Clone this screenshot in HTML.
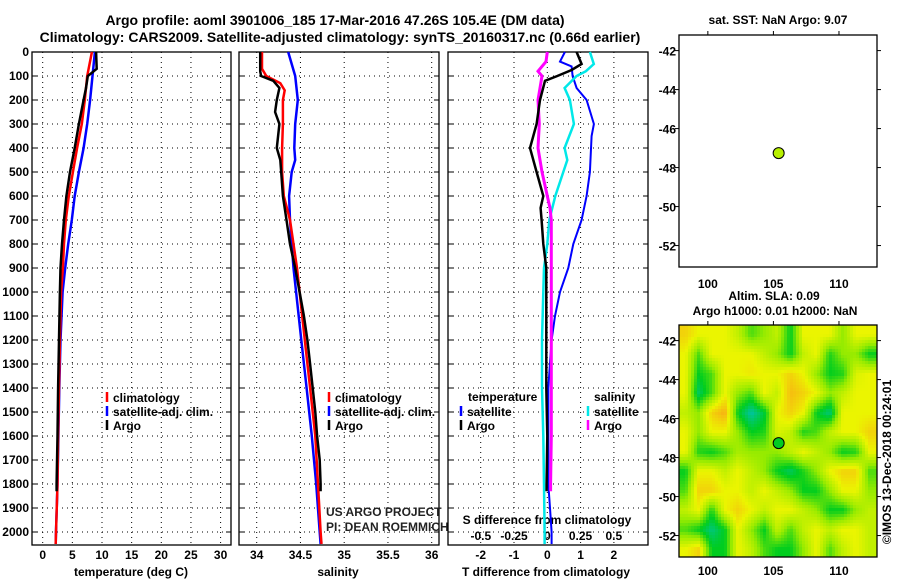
<!DOCTYPE html>
<html><head><meta charset="utf-8"><style>
body{margin:0;background:#fff;}
svg{display:block;font-family:"Liberation Sans",Arial,sans-serif;}
.b{font-weight:bold;font-size:12px;}
</style></head><body>
<svg id="s" width="900" height="580" xmlns="http://www.w3.org/2000/svg">
<text x="335" y="25" text-anchor="middle" font-weight="bold" font-size="14">Argo profile: aoml 3901006_185 17-Mar-2016 47.26S 105.4E (DM data)</text>
<text x="340" y="42" text-anchor="middle" font-weight="bold" font-size="14">Climatology: CARS2009. Satellite-adjusted climatology: synTS_20160317.nc (0.66d earlier)</text>
<g id="g"></g>
</svg>
<script>
// ---- data ----
const depthTicks=[0,100,200,300,400,500,600,700,800,900,1000,1100,1200,1300,1400,1500,1600,1700,1800,1900,2000];
const tTicks=[0,5,10,15,20,25,30];
const sTicks=[34,34.5,35,35.5,36];
const dtTicks=[-2,-1,0,1,2];
const dsTicks=[-0.5,-0.25,0,0.25,0.5];
const dsTickLabels=["-0.5","-0.25","0","0.25","0.5"];
const argoDepth=[0,70,100,150,200,300,400,500,600,700,800,900,1000,1200,1400,1600,1800,1830];
const argoTemp=[9.0,9.1,7.6,7.3,6.9,6.1,5.4,4.6,4.0,3.6,3.25,3.0,2.9,2.75,2.6,2.5,2.35,2.35];
const climDepth=[0,100,200,300,400,500,600,700,800,900,1000,1200,1400,1600,1800,2000,2050];
const climTemp=[8.3,7.5,7.1,6.6,5.8,5.1,4.4,3.9,3.6,3.4,3.1,2.9,2.75,2.6,2.5,2.25,2.2];
const satTemp=[8.8,8.4,8.0,7.5,6.9,6.1,5.4,4.9,4.3,3.8,3.35,3.0,2.8,2.65,2.5,2.25,2.2];
const argoSDepth=[0,80,100,120,150,200,250,300,400,450,500,600,700,800,900,1000,1100,1200,1300,1400,1500,1600,1700,1800,1830];
const argoSal=[34.04,34.04,34.05,34.19,34.26,34.23,34.21,34.26,34.23,34.27,34.28,34.30,34.34,34.38,34.44,34.49,34.54,34.58,34.61,34.64,34.67,34.69,34.72,34.73,34.73];
const climSDepth=[0,70,100,130,160,200,300,400,500,600,700,800,900,1000,1200,1400,1600,1800,2000,2050];
const climSal=[34.06,34.06,34.11,34.27,34.32,34.30,34.30,34.29,34.29,34.31,34.38,34.42,34.46,34.49,34.55,34.61,34.67,34.70,34.73,34.74];
const satSDepth=[0,50,100,200,300,400,450,500,600,700,800,900,1000,1200,1400,1600,1800,2000,2050];
const satSal=[34.36,34.40,34.44,34.47,34.44,34.43,34.44,34.40,34.37,34.38,34.40,34.42,34.45,34.51,34.57,34.63,34.68,34.72,34.73];
const dTSatDepth=[0,40,60,100,150,200,300,350,500,600,700,800,900,1000,1100,1200,1400,1600,1800,1900,2000,2050];
const dTSat=[0.53,0.38,0.73,0.76,0.88,1.18,1.4,1.33,1.28,1.18,1.03,0.78,0.63,0.38,0.23,0.13,0.03,0.03,0.03,0.08,0.13,0.13];
const dTArgoDepth=[0,50,75,100,120,200,300,400,500,600,650,700,800,900,1000,1200,1400,1600,1800,1830];
const dTArgo=[0.88,1.03,0.73,0.3,-0.07,-0.22,-0.32,-0.52,-0.32,-0.12,-0.2,-0.17,-0.12,-0.03,-0.03,-0.03,-0.03,0.0,-0.02,-0.02];
const dSSatDepth=[0,50,80,100,150,200,300,400,450,500,600,700,800,900,1000,1200,1400,1600,1800,2000,2050];
const dSSat=[0.32,0.35,0.29,0.22,0.13,0.17,0.2,0.13,0.15,0.12,0.06,0.015,0,-0.025,-0.03,-0.04,-0.04,-0.03,-0.025,-0.02,-0.02];
const dSArgoDepth=[0,40,80,100,150,200,300,400,500,600,650,700,800,900,1000,1200,1400,1600,1800,1830];
const dSArgo=[0,-0.01,-0.07,-0.04,-0.055,-0.07,-0.06,-0.07,-0.04,0,0.02,0.03,0.03,0.03,0.03,0.03,0.03,0.03,0.025,0.025];
const lonTicks=[100,105,110];
const latTicks=[-42,-44,-46,-48,-50,-52];
const floatLon=105.4, floatLat=-47.26;
const slaLons=[98.3,99.3,100.3,101.3,102.3,103.3,104.3,105.3,106.3,107.3,108.3,109.3,110.3,111.3,112.3];
const slaLats=[-41.7,-42.7,-43.7,-44.7,-45.7,-46.7,-47.7,-48.7,-49.7,-50.7,-51.7,-52.7];
const slaLevels=[
[3.5,3,3,3,2.5,1.5,2,2.5,1,3,3,3,2,3,3],
[3,1.5,3,3,3,3,2.5,2,1,2.5,3,1.2,2,2,1],
[3,1,1.5,3,3,3.2,3,3,3.5,3,2,1,1.2,2.8,3],
[3,0.5,1.5,3,2,1.5,3,2.5,3.8,3.5,3,2,2.5,3,3],
[2.5,2,3.5,4,1,0,0.8,3,3.5,3,1,0.3,3,3,3],
[3,2,3,3,2,1,1.2,2.8,2.5,1.2,1.5,2.5,3,3,3.5],
[3,1.2,1,1.5,2.2,2,2,2,2.5,3,2.5,2,1,1.2,3],
[1,3,3,2.5,3,2.5,2,1,0.5,1.2,2,3,3.5,3.5,1.5],
[1.5,3.5,3.5,3,3,2.5,3,2.5,2,1,1,2,3,3,2],
[2.5,3,1.2,3,3.5,3,2.5,3,3,2.5,2,1,1,2,2.5],
[1.5,1,0.3,1,3,2,1,2.5,1.5,2.5,3,2.5,3,3,2.5],
[3,3.5,1,1,3,2.5,1.5,1,1,2,3,1.5,2.5,3,2.5]];

const NS="http://www.w3.org/2000/svg";
const G=document.getElementById('g');
function mk(tag,at,parent){const e=document.createElementNS(NS,tag);for(const k in at)e.setAttribute(k,at[k]);(parent||G).appendChild(e);return e;}
function txt(x,y,s,anchor,cls,parent){const e=mk('text',{x:x,y:y,'text-anchor':anchor||'middle','class':cls||'b'},parent);e.textContent=s;return e;}

const TOP=52, DPX=0.24, BOT=545;
const yD=d=>TOP+d*DPX;
const P1={x0:32,x1:231,f:v=>42.7+v*5.93};
const P2={x0:239,x1:439,f:v=>256.7+(v-34)*87.5};
const P3={x0:448,x1:648,f:v=>547.3+v*33.3,g:v=>547.3+v*133};

function panel(P,name,xt,xf){
  const b=mk('rect',{x:P.x0,y:TOP,width:P.x1-P.x0,height:BOT-TOP,fill:'#fff',stroke:'#000','stroke-width':1.3});
  
  
  depthTicks.forEach(d=>{
    const l=mk('line',{x1:P.x0,x2:P.x1,y1:yD(d),y2:yD(d),stroke:'#000','stroke-width':1,'stroke-dasharray':'1,4'});
    
    
    mk('line',{x1:P.x1-5,x2:P.x1,y1:yD(d),y2:yD(d),stroke:'#000'});
    mk('line',{x1:P.x0,x2:P.x0+5,y1:yD(d),y2:yD(d),stroke:'#000'});
  });
  xt.forEach(v=>{
    const l=mk('line',{x1:xf(v),x2:xf(v),y1:TOP,y2:BOT,stroke:'#000','stroke-width':1,'stroke-dasharray':'1,4'});
    
    
  });
}
function series(depths,vals,xf,color,name,w){
  const pts=depths.map((d,i)=>xf(vals[i]).toFixed(1)+','+yD(d).toFixed(1)).join(' ');
  const p=mk('polyline',{points:pts,fill:'none',stroke:color,'stroke-width':w||2.5,'stroke-linejoin':'miter'});
  
  
}
function legend(x,y,color,label){
  mk('line',{x1:x,x2:x,y1:y-10,y2:y,stroke:color,'stroke-width':2.5});
  const t=txt(x+6,y,label,'start');
  
  
}

// Panel 1
panel(P1,'temperature-panel',tTicks,P1.f);
depthTicks.forEach(d=>{const t=txt(29,yD(d)+4,String(d),'end');});
tTicks.forEach(v=>{const t=txt(P1.f(v),559,String(v));});
{const t=txt(131,576,'temperature (deg C)');}
series(climDepth,satTemp,P1.f,'#0000ff','line-sat-temp');
series(climDepth,climTemp,P1.f,'#ff0000','line-clim-temp');
series(argoDepth,argoTemp,P1.f,'#000','line-argo-temp');
legend(107,402,'#f00','climatology');legend(107,416,'#00f','satellite-adj. clim.');legend(107,430,'#000','Argo');

// Panel 2
panel(P2,'salinity-panel',sTicks,P2.f);
sTicks.forEach(v=>{const t=txt(P2.f(v),559,String(v));});
{const t=txt(338,576,'salinity');}
series(satSDepth,satSal,P2.f,'#0000ff','line-sat-salinity');
series(climSDepth,climSal,P2.f,'#ff0000','line-clim-salinity');
series(argoSDepth,argoSal,P2.f,'#000','line-argo-salinity');
legend(329,402,'#f00','climatology');legend(329,416,'#00f','satellite-adj. clim.');legend(329,430,'#000','Argo');
{const t=txt(326,516,'US ARGO PROJECT','start','');t.setAttribute('font-size','12');t.setAttribute('fill','#222');
const t2=txt(326,531,'PI: DEAN ROEMMICH','start','');t2.setAttribute('font-size','12');t2.setAttribute('fill','#222');}

// Panel 3
panel(P3,'difference-panel',dtTicks,P3.f);
dtTicks.forEach(v=>{const t=txt(P3.f(v),559,String(v));});
dsTicks.forEach((v,i)=>{const t=txt(P3.g(v),540,dsTickLabels[i]);});
{const t=txt(547,524,'S difference from climatology');}
{const t=txt(546,576,'T difference from climatology');}
series(dTSatDepth,dTSat,P3.f,'#0000ff','line-sat-t-diff',2);
series(dSSatDepth,dSSat,P3.g,'#00e8e8','line-sat-s-diff',2.5);
series(dSArgoDepth,dSArgo,P3.g,'#ff00ff','line-argo-s-diff',3);
series(dTArgoDepth,dTArgo,P3.f,'#000','line-argo-t-diff',2.5);
{const t=txt(468,401,'temperature','start');
const t2=txt(594,401,'salinity','start');}
legend(461,416,'#00f','satellite');legend(461,430,'#000','Argo');
legend(588,416,'#00e8e8','satellite');legend(588,430,'#f0f','Argo');

// Maps
function map(y0,y1,latTop,latBot,name){
  const M={x0:679,x1:877,lonL:97.8,lonR:112.9};
  M.fx=v=>M.x0+(v-M.lonL)*(M.x1-M.x0)/(M.lonR-M.lonL);
  M.fy=v=>y0+(latTop-v)*(y1-y0)/(latTop-latBot);
  M.y0=y0;M.y1=y1;M.name=name;return M;
}
const M1=map(35,267,-41.2,-53.1,'sst-map');
const M2=map(325,557,-41.2,-53.1,'sla-map');
function mapAxes(M,labY){
  const r=mk('rect',{x:M.x0,y:M.y0,width:M.x1-M.x0,height:M.y1-M.y0,fill:'none',stroke:'#000','stroke-width':1.3});
  
  
  latTicks.forEach(v=>{const y=M.fy(v);mk('line',{x1:M.x0-4,x2:M.x0,y1:y,y2:y,stroke:'#000'});mk('line',{x1:M.x1,x2:M.x1+4,y1:y,y2:y,stroke:'#000'});
    const t=txt(676,y+5,String(v),'end');});
  lonTicks.forEach(v=>{const x=M.fx(v);mk('line',{x1:x,x2:x,y1:M.y0-4,y2:M.y0,stroke:'#000'});
    const t=txt(x,labY,String(v));});
}
// SLA heatmap (bilinear interpolation of the level grid)
function lvlColor(v){
  const stops=[[0,195,165],[0,205,30],[150,235,0],[235,245,0],[248,175,20]];
  v=Math.max(0,Math.min(4,v));
  const i=Math.min(3,Math.floor(v)),f=v-i,a=stops[i],b=stops[i+1];
  return 'rgb('+a.map((c,k)=>Math.round(c+(b[k]-c)*f)).join(',')+')';
}
function slaAt(lon,lat){
  let fc=(lon-slaLons[0])/(slaLons[1]-slaLons[0]);
  let fr=(slaLats[0]-lat)/(slaLats[0]-slaLats[1]);
  fc=Math.max(0,Math.min(slaLons.length-1,fc));fr=Math.max(0,Math.min(slaLats.length-1,fr));
  const c0=Math.min(slaLons.length-2,Math.floor(fc)),r0=Math.min(slaLats.length-2,Math.floor(fr));
  const tx=fc-c0,ty=fr-r0;
  const L=slaLevels;
  return (L[r0][c0]*(1-tx)+L[r0][c0+1]*tx)*(1-ty)+(L[r0+1][c0]*(1-tx)+L[r0+1][c0+1]*tx)*ty;
}
const hg=mk('g',{});


const STEP=3;
for(let y=M2.y0;y<M2.y1;y+=STEP){
  for(let x=M2.x0;x<M2.x1;x+=STEP){
    const lon=M2.lonL+(x+STEP/2-M2.x0)*(M2.lonR-M2.lonL)/(M2.x1-M2.x0);
    const lat=-41.2-(y+STEP/2-M2.y0)*(11.9)/(M2.y1-M2.y0);
    mk('rect',{x:x,y:y,width:Math.min(STEP,M2.x1-x)+0.3,height:Math.min(STEP,M2.y1-y)+0.3,fill:lvlColor(slaAt(lon,lat))},hg);
  }
}
mapAxes(M1,288);mapAxes(M2,575);
[[M1,'#b8f000'],[M2,'#00cc22']].forEach(([M,c])=>{
  const d=mk('circle',{cx:M.fx(floatLon),cy:M.fy(floatLat),r:5.5,fill:c,stroke:'#000','stroke-width':1});
  
  
});
{const t=txt(778,24,'sat. SST: NaN Argo: 9.07');
const t2=txt(774,300,'Altim. SLA: 0.09');
const t3=txt(775,315,'Argo h1000: 0.01 h2000: NaN');
const t4=txt(0,0,'©IMOS 13-Dec-2018 00:24:01','middle','');t4.setAttribute('font-size','12');t4.setAttribute('transform','translate(891,462) rotate(-90)');}
</script>
</body></html>
